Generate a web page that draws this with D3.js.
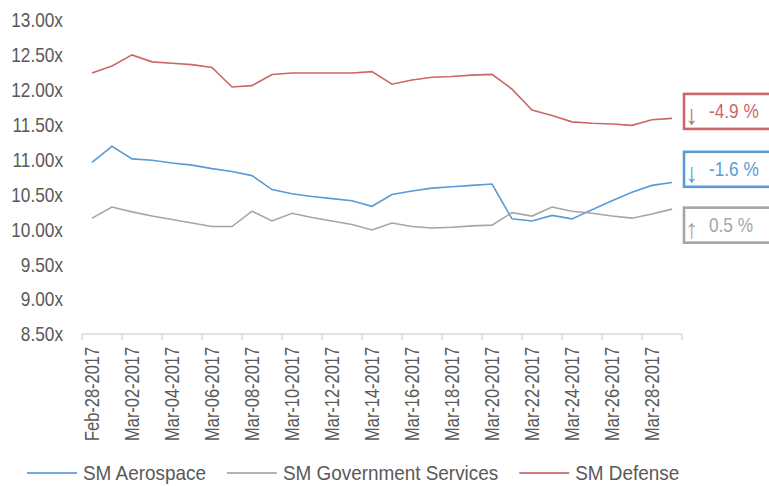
<!doctype html>
<html>
<head>
    <style>
        body { margin: 0; background: #fff; }
        svg text { font-family: "Liberation Sans", Arial, sans-serif; fill: #595959; }
    </style>
    <script src="https://d3js.org/d3.v7.min.js"></script>
</head>
<body>
<svg width="769" height="486"></svg>
<script>
    // dates on the x axis (one per day)
    var dates = ["Feb-28-2017","Mar-01-2017","Mar-02-2017","Mar-03-2017","Mar-04-2017","Mar-05-2017",
                 "Mar-06-2017","Mar-07-2017","Mar-08-2017","Mar-09-2017","Mar-10-2017","Mar-11-2017",
                 "Mar-12-2017","Mar-13-2017","Mar-14-2017","Mar-15-2017","Mar-16-2017","Mar-17-2017",
                 "Mar-18-2017","Mar-19-2017","Mar-20-2017","Mar-21-2017","Mar-22-2017","Mar-23-2017",
                 "Mar-24-2017","Mar-25-2017","Mar-26-2017","Mar-27-2017","Mar-28-2017","Mar-29-2017"];

    var aerospace = [10.96,11.19,11.01,10.99,10.95,10.92,10.87,10.83,10.77,10.57,10.51,10.47,10.44,10.41,10.33,
                     10.50,10.55,10.59,10.61,10.63,10.65,10.15,10.12,10.20,10.15,10.28,10.41,10.53,10.63,10.67];
    var government = [10.16,10.32,10.25,10.19,10.14,10.09,10.04,10.04,10.26,10.12,10.23,10.17,10.12,10.07,9.99,
                      10.09,10.04,10.02,10.03,10.05,10.06,10.24,10.19,10.32,10.26,10.23,10.19,10.16,10.22,10.29];
    var defense = [12.24,12.34,12.50,12.40,12.38,12.36,12.32,12.04,12.06,12.22,12.24,12.24,12.24,12.24,12.26,
                   12.08,12.14,12.18,12.19,12.21,12.22,12.01,11.71,11.63,11.54,11.52,11.51,11.49,11.57,11.59];

    var seriesNames = ["SM Aerospace", "SM Government Services", "SM Defense"];
    var seriesColors = ["#5b9bd5", "#a5a5a5", "#cb6767"];

    var yTicks = [8.5, 9, 9.5, 10, 10.5, 11, 11.5, 12, 12.5, 13];

    // change callouts at the right edge (order: defense, aerospace, government)
    var calloutText = ["-4.9 %", "-1.6 %", "0.5 %"];
    var calloutArrow = ["\u2193", "\u2193", "\u2191"];
    var calloutColor = ["#cb6767", "#5b9bd5", "#a5a5a5"];
    var calloutAt = [11.69, 10.86, 10.06];   // value the box is centred on

    var svg = d3.select("svg");
    var plotLeft = 82, plotRight = 682, plotTop = 20, plotBottom = 334;

    var xScale = d3.scaleBand().domain(dates).range([plotLeft, plotRight]).padding(0);
    var yScale = d3.scaleLinear().domain([8.5, 13]).range([plotBottom, plotTop]);
    var bw = xScale.bandwidth();

    // the original font is a narrow one, squeeze the glyphs to match
    function narrow(sel, k) {
        k = k || 0.82;
        sel.each(function() {
            var w = this.getComputedTextLength();
            d3.select(this).attr("textLength", w * k).attr("lengthAdjust", "spacingAndGlyphs");
        });
    }

    // y labels only, no axis line
    svg.append("g").selectAll("text")
       .data(yTicks)
       .enter().append("text")
       .attr("x", 63)
       .attr("y", function(d) { return yScale(d); })
       .attr("dy", "0.35em")
       .attr("text-anchor", "end")
       .style("font-size", "21px")
       .text(function(d) { return d3.format(".2f")(d) + "x"; })
       .call(narrow);

    // x axis line + ticks every other day boundary
    var xg = svg.append("g");
    xg.append("line")
      .attr("x1", plotLeft).attr("x2", plotRight)
      .attr("y1", plotBottom).attr("y2", plotBottom)
      .attr("stroke", "#d9d9d9").attr("stroke-width", 1.5);
    var tickDates = dates.filter(function(d, i) { return i % 2 == 0; });
    xg.selectAll(".tk")
      .data(tickDates.map(function(d) { return xScale(d); }).concat([plotRight]))
      .enter().append("line")
      .attr("x1", function(d) { return d; })
      .attr("x2", function(d) { return d; })
      .attr("y1", plotBottom).attr("y2", plotBottom + 6)
      .attr("stroke", "#d9d9d9").attr("stroke-width", 1.5);

    xg.selectAll(".xl")
      .data(tickDates)
      .enter().append("text")
      .attr("transform", function(d) {
          return "translate(" + (xScale(d) + bw / 2) + "," + (plotBottom + 13) + ")rotate(-90)";
      })
      .attr("dy", "0.35em")
      .attr("text-anchor", "end")
      .style("font-size", "20px")
      .text(function(d) { return d; })
      .call(narrow);

    // lines
    var series = [aerospace, government, defense];
    var line = d3.line()
        .x(function(d, i) { return xScale(dates[i]) + bw / 2; })
        .y(function(d) { return yScale(d); });

    svg.append("g").selectAll("path")
       .data(series)
       .enter().append("path")
       .attr("fill", "none")
       .attr("stroke", function(d, i) { return seriesColors[i]; })
       .attr("stroke-width", 1.6)
       .attr("d", line);

    // callout boxes
    var cg = svg.append("g").selectAll("g")
       .data(calloutText)
       .enter().append("g")
       .attr("transform", function(d, i) { return "translate(684," + yScale(calloutAt[i]) + ")"; });
    cg.append("rect")
      .attr("x", 0).attr("y", -17.5)
      .attr("width", 100).attr("height", 35)
      .attr("fill", "#fff")
      .attr("stroke", function(d, i) { return calloutColor[i]; })
      .attr("stroke-width", 2.6);
    cg.append("text")
      .attr("x", 1).attr("y", 13)
      .style("font-size", "27px")
      .style("fill", function(d, i) { return calloutColor[i]; })
      .text(function(d, i) { return calloutArrow[i]; });
    cg.append("text")
      .attr("x", 25).attr("y", 7)
      .style("font-size", "21px")
      .style("fill", function(d, i) { return calloutColor[i]; })
      .text(function(d) { return d; })
      .call(narrow);

    // legend
    var lx = 27, ly = 473;
    seriesNames.forEach(function(name, i) {
        svg.append("line")
           .attr("x1", lx).attr("x2", lx + 50)
           .attr("y1", ly).attr("y2", ly)
           .attr("stroke", seriesColors[i]).attr("stroke-width", 2)
           .attr("opacity", 0.85);
        var t = svg.append("text")
           .attr("x", lx + 56).attr("y", ly)
           .attr("dy", "0.35em")
           .style("font-size", "21px")
           .text(name);
        var w = t.node().getComputedTextLength() * 0.9;
        t.call(narrow, 0.9);
        lx += 56 + w + 21;
    });
</script>
</body>
</html>
